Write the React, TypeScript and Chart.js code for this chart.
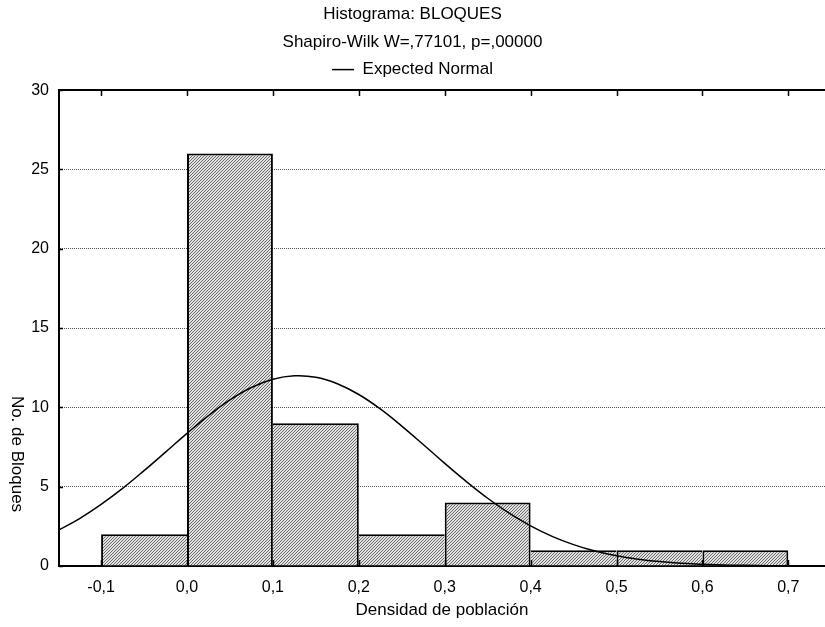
import React, { useEffect, useRef } from "react";
import { Chart, registerables } from "chart.js";

Chart.register(...registerables);

// ---- data ----
const binCenters = [-0.05, 0.05, 0.15, 0.25, 0.35, 0.45, 0.55, 0.65];
const binCounts = [2, 26, 9, 2, 4, 1, 1, 1];

// Expected normal curve
const curveX = [
  -0.15, -0.125, -0.1, -0.075, -0.05, -0.025, 0, 0.025, 0.05, 0.075, 0.1, 0.125,
  0.15, 0.175, 0.2, 0.225, 0.25, 0.275, 0.3, 0.325, 0.35, 0.375, 0.4, 0.425, 0.45,
  0.475, 0.5, 0.525, 0.55, 0.575, 0.6, 0.625, 0.65, 0.675, 0.7, 0.745,
];
const curveY = [
  2.25, 2.99, 3.88, 4.89, 6.01, 7.18, 8.36, 9.48, 10.47, 11.25, 11.77, 11.99,
  11.9, 11.49, 10.81, 9.9, 8.82, 7.66, 6.47, 5.33, 4.27, 3.33, 2.53, 1.87, 1.35,
  0.94, 0.64, 0.43, 0.28, 0.17, 0.11, 0.06, 0.04, 0.02, 0.01, 0.005,
];

const xTickValues = [-0.1, 0, 0.1, 0.2, 0.3, 0.4, 0.5, 0.6, 0.7];
const yTickValues = [0, 5, 10, 15, 20, 25, 30];

const titleLines = ["Histograma: BLOQUES", "Shapiro-Wilk W=,77101, p=,00000"];
const legendLabel = "Expected Normal";
const barLabel = "BLOQUES";
const xTitle = "Densidad de población";
const yTitle = "No. de Bloques";

const X_MIN = -0.149;
const X_MAX = 0.7427;
const Y_MIN = 0;
const Y_MAX = 30;

const FAMILY = "'Liberation Sans', Arial, Helvetica, sans-serif";

function makeHatch(): CanvasPattern | string {
  const c = document.createElement("canvas");
  c.width = 3;
  c.height = 3;
  const g = c.getContext("2d");
  if (!g) return "#b0b0b0";
  g.fillStyle = "#e2e2e2";
  g.fillRect(0, 0, 3, 3);
  g.fillStyle = "#6a6a6a";
  for (let i = 0; i < 3; i++) g.fillRect(i, 2 - i, 1, 1);
  return g.createPattern(c, "repeat") || "#b0b0b0";
}

// shared edges are outlined on the taller bar's side so every edge is ~2px
function barBorder(ctx: any) {
  const i = ctx.dataIndex;
  if (i === undefined || i < 0) return 2;
  const h = binCounts[i];
  const prev = i > 0 ? binCounts[i - 1] : -1;
  const next = i < binCounts.length - 1 ? binCounts[i + 1] : -1;
  return {
    top: 2,
    bottom: 0,
    left: prev <= h ? 2 : 0,
    right: next < h ? 2 : 0,
  };
}

const framePlugin = {
  id: "framePlugin",
  afterDraw(chart: any) {
    const { ctx, chartArea } = chart;
    const xs = chart.scales.x;
    const ys = chart.scales.y;
    const { left, right, top, bottom } = chartArea;
    ctx.save();
    ctx.strokeStyle = "#000";
    // top frame line
    ctx.lineWidth = 2;
    ctx.beginPath();
    ctx.moveTo(left - 1, top);
    ctx.lineTo(right, top);
    ctx.stroke();
    // tick marks
    ctx.lineWidth = 1.5;
    ctx.beginPath();
    for (const v of xTickValues) {
      const px = Math.round(xs.getPixelForValue(v)) + 0.5;
      ctx.moveTo(px, top);
      ctx.lineTo(px, top + 6);
      ctx.moveTo(px, bottom);
      ctx.lineTo(px, bottom - 6);
    }
    for (const v of yTickValues) {
      const py = Math.round(ys.getPixelForValue(v)) + 0.5;
      ctx.moveTo(left, py);
      ctx.lineTo(left + 4, py);
    }
    ctx.stroke();
    // rotated y axis title (reads top to bottom)
    ctx.fillStyle = "#000";
    ctx.font = `17px ${FAMILY}`;
    ctx.translate(17, 454);
    ctx.rotate(Math.PI / 2);
    ctx.textAlign = "center";
    ctx.textBaseline = "middle";
    ctx.fillText(yTitle, 0, 0);
    ctx.restore();
  },
};

function fmtX(v: number): string {
  const n = Math.abs(v) < 1e-9 ? 0 : v;
  return n.toFixed(1).replace(".", ",");
}

export default function App() {
  const ref = useRef<HTMLCanvasElement | null>(null);

  useEffect(() => {
    if (!ref.current) return;
    const hatch = makeHatch();
    const font = { family: FAMILY, size: 16, weight: "normal" as const };
    const bigFont = { family: FAMILY, size: 17, weight: "normal" as const };

    const chart = new Chart(ref.current, {
      type: "bar",
      data: {
        datasets: [
          {
            type: "bar",
            label: barLabel,
            data: binCenters.map((c, i) => ({ x: c, y: binCounts[i] })),
            backgroundColor: hatch as any,
            borderColor: "#000",
            borderWidth: barBorder,
            borderSkipped: false,
            inflateAmount: 0,
            barPercentage: 1,
            categoryPercentage: 1,
            order: 2,
            xAxisID: "x",
            yAxisID: "y",
          } as any,
          {
            type: "line",
            label: legendLabel,
            data: curveX.map((x, i) => ({ x, y: curveY[i] })),
            borderColor: "#000",
            backgroundColor: "#000",
            borderWidth: 1.5,
            pointRadius: 0,
            tension: 0.4,
            fill: false,
            order: 0,
            xAxisID: "x",
            yAxisID: "y",
          } as any,
        ],
      },
      options: {
        responsive: false,
        animation: false,
        layout: { padding: { left: 0, right: 0, top: 0, bottom: 0 } },
        plugins: {
          title: {
            display: true,
            text: titleLines,
            color: "#000",
            font: { family: FAMILY, size: 17, weight: "normal", lineHeight: 1.65 },
            padding: { top: 0, bottom: 0 },
          },
          legend: {
            display: true,
            position: "top",
            labels: {
              filter: (item: any) => item.datasetIndex === 1,
              usePointStyle: true,
              pointStyle: "line",
              pointStyleWidth: 22,
              color: "#000",
              font: bigFont,
              padding: 5,
            },
          },
          tooltip: { enabled: false },
        },
        scales: {
          x: {
            type: "linear",
            position: "bottom",
            offset: false,
            min: X_MIN,
            max: X_MAX,
            afterBuildTicks: (s: any) => {
              s.ticks = xTickValues.map((v) => ({ value: v }));
            },
            afterFit: (s: any) => {
              s.height = 61;
            },
            ticks: {
              callback: (v: any) => fmtX(Number(v)),
              color: "#000",
              font,
              padding: 12,
              maxRotation: 0,
              autoSkip: false,
            },
            grid: { display: false, drawTicks: false, offset: false },
            border: { display: true, color: "#000", width: 2 },
            title: {
              display: true,
              text: xTitle,
              color: "#000",
              font: bigFont,
              padding: { top: 0, bottom: 6 },
            },
          },
          xTop: {
            type: "linear",
            position: "top",
            offset: false,
            min: X_MIN,
            max: X_MAX,
            grid: { display: false, drawTicks: false },
            ticks: { display: false },
            border: { display: false },
            afterFit: (s: any) => {
              s.height = 2;
            },
          },
          y: {
            type: "linear",
            position: "left",
            min: Y_MIN,
            max: Y_MAX,
            afterBuildTicks: (s: any) => {
              s.ticks = yTickValues.map((v) => ({ value: v }));
            },
            afterFit: (s: any) => {
              s.width = 59;
            },
            ticks: { color: "#000", font, padding: 10 },
            grid: { color: "#555", lineWidth: 1, drawTicks: false, tickLength: 0 },
            border: { display: true, color: "#000", width: 2, dash: [1, 1] },
          },
        },
      } as any,
      plugins: [framePlugin],
    });
    return () => chart.destroy();
  }, []);

  return (
    <div style={{ position: "fixed", left: 0, top: 0, width: 825, height: 627, background: "#fff" }}>
      <canvas ref={ref} width={825} height={627} style={{ display: "block", width: 825, height: 627 }} />
    </div>
  );
}
